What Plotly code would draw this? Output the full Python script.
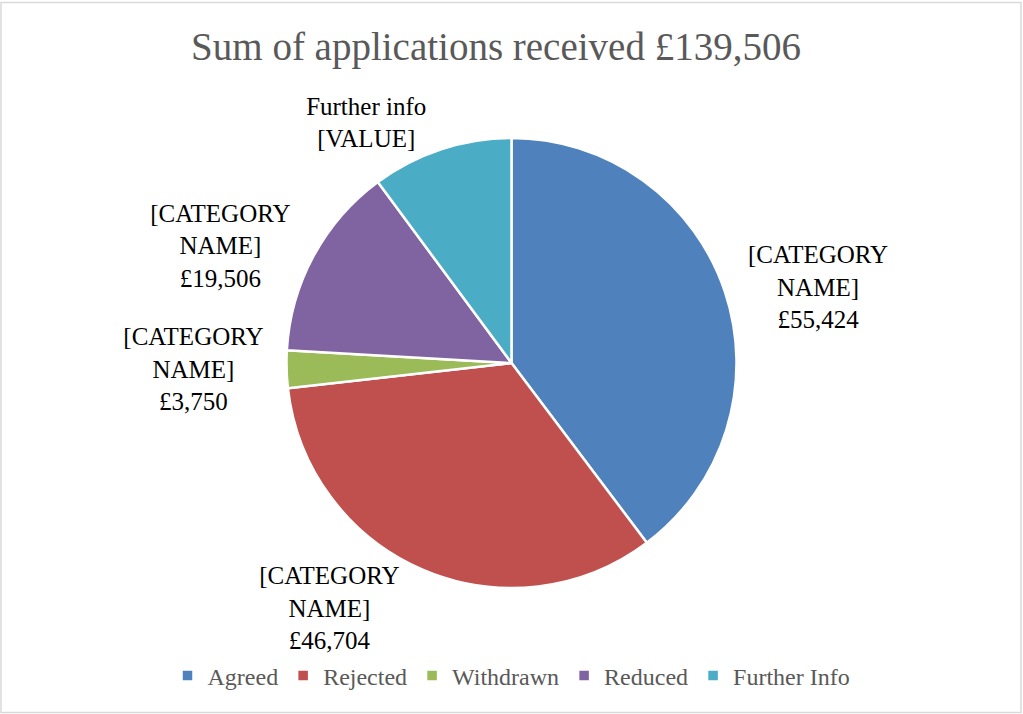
import plotly.graph_objects as go

categories = ["Agreed", "Rejected", "Withdrawn", "Reduced", "Further Info"]
values = [55424, 46704, 3750, 19506, 14122]
label_texts = [
    "[CATEGORY<br>NAME]<br>£55,424",
    "[CATEGORY<br>NAME]<br>£46,704",
    "[CATEGORY<br>NAME]<br>£3,750",
    "[CATEGORY<br>NAME]<br>£19,506",
    "Further info<br>[VALUE]",
]
colors = ["#4F81BD", "#C0504D", "#9BBB59", "#8064A2", "#4BACC6"]
title_text = "Sum of applications received £139,506"

FONT = "Liberation Serif"
W, H = 1023, 714
L, R, T, B = 0, 0, 138, 126
ph = H - T - B

fig = go.Figure(go.Pie(
    labels=categories,
    values=values,
    text=label_texts,
    texttemplate="%{text}",
    textposition="outside",
    textfont=dict(family=FONT, size=25, color="#000000"),
    marker=dict(colors=colors, line=dict(color="#FFFFFF", width=2.5)),
    sort=False,
    direction="clockwise",
    rotation=0,
    hoverinfo="label+value",
    automargin=False,
))

fig.update_layout(
    width=W, height=H,
    margin=dict(l=L, r=R, t=T, b=B),
    paper_bgcolor="white",
    plot_bgcolor="white",
    title=dict(text=title_text, x=496 / W, xanchor="center", y=1 - 46 / H, yanchor="middle",
               yref="container", font=dict(family=FONT, size=39, color="#595959")),
    legend=dict(orientation="h", x=0.5, xanchor="center", y=(ph - (676 - T)) / ph, yanchor="middle",
                font=dict(family=FONT, size=24, color="#595959"), itemwidth=30,
                traceorder="normal"),
    shapes=[dict(type="rect", xref="paper", yref="paper",
                 x0=1 / W, x1=1 - 2 / W, y0=-(B - 1.5) / ph, y1=1 + (T - 2.5) / ph,
                 line=dict(color="#D9D9D9", width=1.5), fillcolor="rgba(0,0,0,0)", layer="below")],
)

fig.write_html("out.html")
